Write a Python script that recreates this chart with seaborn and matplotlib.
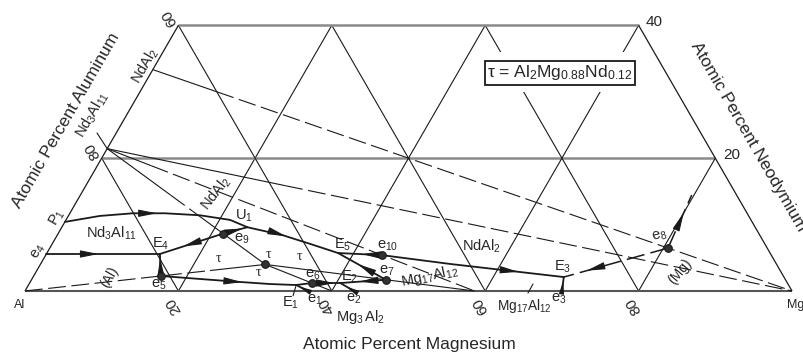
import numpy as np
import pandas as pd
import matplotlib.pyplot as plt
from matplotlib.patches import Rectangle
import seaborn as sns

sns.set_theme(style="white")
plt.rcParams['font.family'] = ['Liberation Sans', 'DejaVu Sans']
plt.rcParams['mathtext.fontset'] = 'custom'
plt.rcParams['mathtext.rm'] = 'Liberation Sans'
plt.rcParams['mathtext.it'] = 'Liberation Sans:italic'

# compositions in at.% (Mg, Nd), Al is the balance
ticks = [20, 40, 60, 80]
nd_top = 40

compounds = ['Al', 'Mg', 'Nd3Al11', 'NdAl2', 'tau', 'Mg2Al3', 'Mg17Al12']
comp_mg = [0, 100, 0, 0, 29.33, 40.0, 58.62]
comp_nd = [0, 0, 21.43, 33.33, 4.0, 0, 0]

# tie lines
tie_a = ['NdAl2', 'Nd3Al11', 'Nd3Al11', 'Nd3Al11', 'Al', 'tau', 'tau']
tie_b = ['Mg', 'Mg', 'Mg17Al12', 'tau', 'tau', 'Mg2Al3', 'Mg17Al12']
tie_solid = [[(0, .10)], [(0, .26)], [(0, .12)], [(0, .40), (.54, 1)],
             [(.77, 1)], [(0, 1)], [(0, 1)]]

# invariant and saddle points
inv_names = ['P1', 'e4', 'E4', 'e5', 'e9', 'U1', 'E1', 'e1', 'e6', 'E2', 'e2',
             'e7', 'E5', 'e10', 'E3', 'e3', 'e8']
inv_mg = [0, 0, 14.8, 16.6, 21.5, 24.2, 34.9, 36.9, 36.8, 40.5, 42.9,
          46.2, 37.95, 43.84, 69.2, 70.0, 80.6]
inv_nd = [10.4, 5.57, 5.57, 2.26, 8.64, 9.6, 0.9, 0, 1.2, 1.2, 0,
          1.69, 5.72, 5.4, 2.1, 0, 6.47]
dot_names = ['e5', 'e9', 'e6', 'e7', 'e10', 'e8']

# curved valleys
p1_u1_mg = [0, 4.1, 8.2, 12.4, 17.1, 21.4, 24.2]
p1_u1_nd = [10.4, 11.3, 11.7, 11.7, 11.4, 10.7, 9.6]
u1_e5_mg = [24.2, 29.4, 33.6, 37.95]
u1_e5_nd = [9.6, 8.4, 7.1, 5.72]
e5_e1_mg = [16.6, 21.9, 27.35, 31.4, 34.9]
e5_e1_nd = [2.26, 1.81, 1.36, 1.05, 0.9]
e10_e3_mg = [43.84, 53.4, 63.1, 69.2]
e10_e3_nd = [5.4, 4.07, 2.86, 2.1]
e8_up_mg = [80.6, 79.7]
e8_up_nd = [6.47, 14.45]

# straight valleys (from, to) in the direction of falling temperature
valley_from = ['e4', 'e5', 'e9', 'e9', 'e6', 'e7', 'e7', 'e10', 'e1', 'e2', 'e6', 'e3']
valley_to = ['E4', 'E4', 'E4', 'U1', 'E2', 'E2', 'E5', 'E5', 'E1', 'E2', 'E1', 'E3']
valley_arrow = [.46, .8, .63, .8, .8, .57, .58, .45, .75, .55, None, .7]


def tern(mg, nd):
    mg = np.asarray(mg, float)
    nd = np.asarray(nd, float)
    return mg + nd / 2, nd * np.sqrt(3) / 2


def pt(name):
    if name in compounds:
        i = compounds.index(name)
        return comp_mg[i], comp_nd[i]
    i = inv_names.index(name)
    return inv_mg[i], inv_nd[i]


def pxd(x, y):  # picture pixel -> data units (layout only)
    return (x - 25) / 7.67, (291 - y) / 7.67


fig = plt.figure(figsize=(8.04, 3.56), dpi=100)
ax = fig.add_axes([0, 0, 1, 1])
ax.set_xlim(-25 / 7.67, 779 / 7.67)
ax.set_ylim(-65 / 7.67, 291 / 7.67)
ax.axis('off')


def seg(mg, nd, **kw):
    x, y = tern(mg, nd)
    ax.plot(x, y, solid_capstyle='butt', **kw)


# grid
for t in ticks:
    seg([t, t], [0, min(nd_top, 100 - t)], color='k', lw=0.8)
    n = min(t, nd_top)
    seg([t, t - n], [0, n], color='k', lw=0.8)
    if t < nd_top:
        seg([0, 100 - t], [t, t], color='#8a8a8a', lw=1.8)
seg([0, 100 - nd_top], [nd_top, nd_top], color='#8a8a8a', lw=1.8)
seg([0, 0], [0, nd_top], color='k', lw=0.9)
seg([100, 100 - nd_top], [0, nd_top], color='k', lw=0.9)
seg([0, 100], [0, 0], color='#555555', lw=1.5)

# white gap around the tau box
x0, y0 = pxd(484, 92)
x1, y1 = pxd(640, 52)
ax.add_patch(Rectangle((x0, y0), x1 - x0, y1 - y0, fc='white', ec='none', zorder=3))

# tie lines
for a, b, solid in zip(tie_a, tie_b, tie_solid):
    (ma, na), (mb, nb) = pt(a), pt(b)
    edges = sorted({0, 1, *[v for s in solid for v in s]})
    for s0, s1 in zip(edges[:-1], edges[1:]):
        is_solid = any(lo <= s0 and s1 <= hi for lo, hi in solid)
        mm = [ma + s0 * (mb - ma), ma + s1 * (mb - ma)]
        nn = [na + s0 * (nb - na), na + s1 * (nb - na)]
        seg(mm, nn, color='k', lw=0.8,
            linestyle='-' if is_solid else (0, (16, 5)))


def arrow_on(mg, nd, frac, size=2.3, scale=10):
    xs, ys = tern(mg, nd)
    d = np.hypot(np.diff(xs), np.diff(ys))
    cum = np.r_[0, np.cumsum(d)]
    s = frac * cum[-1]
    i = int(np.clip(np.searchsorted(cum, s) - 1, 0, len(d) - 1))
    u = (s - cum[i]) / d[i]
    tip = np.array([xs[i] + u * (xs[i + 1] - xs[i]), ys[i] + u * (ys[i + 1] - ys[i])])
    dv = np.array([xs[i + 1] - xs[i], ys[i + 1] - ys[i]]) / d[i]
    ax.annotate('', xy=tip, xytext=tip - dv * size,
                arrowprops=dict(arrowstyle='-|>,head_length=1.1,head_width=0.22',
                                color='k', lw=0.8, shrinkA=0, shrinkB=0,
                                mutation_scale=scale), zorder=6)


# valleys
rows = []
curves = {'p1u1': (p1_u1_mg, p1_u1_nd), 'u1e5': (u1_e5_mg, u1_e5_nd),
          'e5e1': (e5_e1_mg, e5_e1_nd), 'e10e3': (e10_e3_mg, e10_e3_nd)}
for k, (mm, nn) in curves.items():
    x, y = tern(mm, nn)
    rows += [dict(curve=k, x=a, y=b, o=j) for j, (a, b) in enumerate(zip(x, y))]
for a, b in zip(valley_from, valley_to):
    (ma, na), (mb, nb) = pt(a), pt(b)
    x, y = tern([ma, mb], [na, nb])
    rows += [dict(curve=a + b, x=x[j], y=y[j], o=j) for j in range(2)]
df = pd.DataFrame(rows)
sns.lineplot(data=df, x='x', y='y', units='curve', estimator=None, sort=False,
             color='k', lw=1.3, legend=False, ax=ax, zorder=5)

for (mm, nn), f in zip(curves.values(), [.5, .42, .6, .75]):
    arrow_on(mm, nn, f)
for a, b, f in zip(valley_from, valley_to, valley_arrow):
    if f is not None:
        (ma, na), (mb, nb) = pt(a), pt(b)
        if a in ('e1', 'e2', 'e3'):
            arrow_on([ma, mb], [na, nb], f, size=1.3, scale=6.5)
        else:
            arrow_on([ma, mb], [na, nb], f)

# dashed valleys from e8
(m8, n8), (m3, n3) = pt('e8'), pt('E3')
seg([m8, m3], [n8, n3], color='k', lw=1.1, linestyle=(0, (12, 4)), zorder=5)
seg(e8_up_mg, e8_up_nd, color='k', lw=1.1, linestyle=(0, (12, 4)), zorder=5)
arrow_on([m8, m3], [n8, n3], .78)
arrow_on(e8_up_mg, e8_up_nd, .66)

# dots
dx, dy = tern([pt(n)[0] for n in dot_names + ['tau']], [pt(n)[1] for n in dot_names + ['tau']])
sns.scatterplot(x=dx, y=dy, s=30, color='#333333', edgecolor='k', linewidth=0.8,
                ax=ax, zorder=7, legend=False)

# point labels (offsets in pixels)
lab_off = {'P1': (-8, 4, 60), 'e4': (-8, 2, 60), 'E4': (1, 10, 0), 'e5': (-2, -9, 0),
           'e9': (19, -5, 0), 'U1': (-4, 11, 0), 'E1': (-6, -18, 0), 'e1': (7, -9, 0),
           'e6': (1, 8, 0), 'E2': (9, 6, 0), 'e2': (0, -8, 0), 'e7': (1, 9, 0),
           'E5': (5, 8, 0), 'e10': (6, 9, 0), 'E3': (-1, 10, 0), 'e3': (-3, -8, 0),
           'e8': (-8, 12, 15)}
for name, (ox, oy, rot) in lab_off.items():
    xy = tern(*pt(name))
    txt = r'$\mathregular{%s_{%s}}$' % (name[0], name[1:])
    ax.annotate(txt, xy=xy, xytext=(ox, oy), textcoords='offset pixels',
                ha='center', va='center', fontsize=10.5, rotation=rot, zorder=8)

# E1 leader
x, y = tern(*pt('E1'))
ax.annotate('', xy=(x - 0.05, y - 0.2), xytext=(x - 0.4, y - 1.4),
            arrowprops=dict(arrowstyle='-', lw=0.8, color='k', shrinkA=0, shrinkB=0))


def ftext(x, y, s, **kw):
    kw.setdefault('ha', 'center')
    kw.setdefault('va', 'center')
    fig.text(x / 804, 1 - y / 356, s, rotation_mode='anchor', **kw)


# field and compound labels
ftext(111, 233, r'$\mathregular{Nd_3Al_{11}}$', fontsize=10.5)
ftext(482, 246, r'$\mathregular{NdAl_2}$', fontsize=10.5)
ftext(216, 193, r'$\mathregular{NdAl_2}$', fontsize=10.5, rotation=52)
ftext(145, 66, r'$\mathregular{NdAl_2}$', fontsize=10.5, rotation=60)
ftext(92, 115, r'$\mathregular{Nd_3Al_{11}}$', fontsize=10.5, rotation=60)
ax.annotate('', xy=tern(*pt('Nd3Al11')), xytext=pxd(97, 133),
            arrowprops=dict(arrowstyle='-', lw=0.8, color='k', shrinkA=0, shrinkB=0))
ftext(110, 277, '(Al)', fontsize=10, rotation=60)
ftext(680, 272, '(Mg)', fontsize=10, rotation=50)
ftext(430, 276, r'$\mathregular{Mg_{17}Al_{12}}$', fontsize=10.5, rotation=12)
ftext(524, 306, r'$\mathregular{Mg_{17}Al_{12}}$', fontsize=9.8)
ax.annotate('', xy=pxd(533, 284), xytext=pxd(528, 293),
            arrowprops=dict(arrowstyle='-', lw=0.8, color='k', shrinkA=0, shrinkB=0))
ftext(360, 317, r'$\mathregular{Mg_3\,Al_2}$', fontsize=10.5)
for tx, ty in [(218, 258), (268, 255), (258, 273), (299, 257)]:
    ftext(tx, ty, 'τ', fontsize=10, family=['Liberation Serif', 'DejaVu Serif'])

ftext(560, 73, r'τ = $\mathregular{Al_2Mg_{0.88}Nd_{0.12}}$', fontsize=12.5, zorder=9,
      bbox=dict(boxstyle='square,pad=0.12', fc='white', ec='k', lw=1.3))

# axis numbers
for t in ticks:
    x, y = tern(t, 0)
    ax.annotate(str(t), xy=(x, y), xytext=(-5, -15), textcoords='offset pixels',
                ha='center', va='center', fontsize=11, rotation=120)
for t in [20, 40]:
    x, y = tern(0, t)
    ax.annotate(str(100 - t), xy=(x, y), xytext=(-9, 8), textcoords='offset pixels',
                ha='center', va='center', fontsize=11, rotation=120)
    x, y = tern(100 - t, t)
    ax.annotate(str(t), xy=(x, y), xytext=(16, 3), textcoords='offset pixels',
                ha='center', va='center', fontsize=11)
ftext(20, 305, 'Al', fontsize=9)
ftext(796, 305, 'Mg', fontsize=9)

ftext(66, 120, 'Atomic Percent Aluminum', fontsize=12.5, rotation=60)
ftext(748, 137, 'Atomic Percent Neodymium', fontsize=12.5, rotation=-60)
ftext(409, 344, 'Atomic Percent Magnesium', fontsize=12.5)

fig.savefig('out.png', dpi=100)
